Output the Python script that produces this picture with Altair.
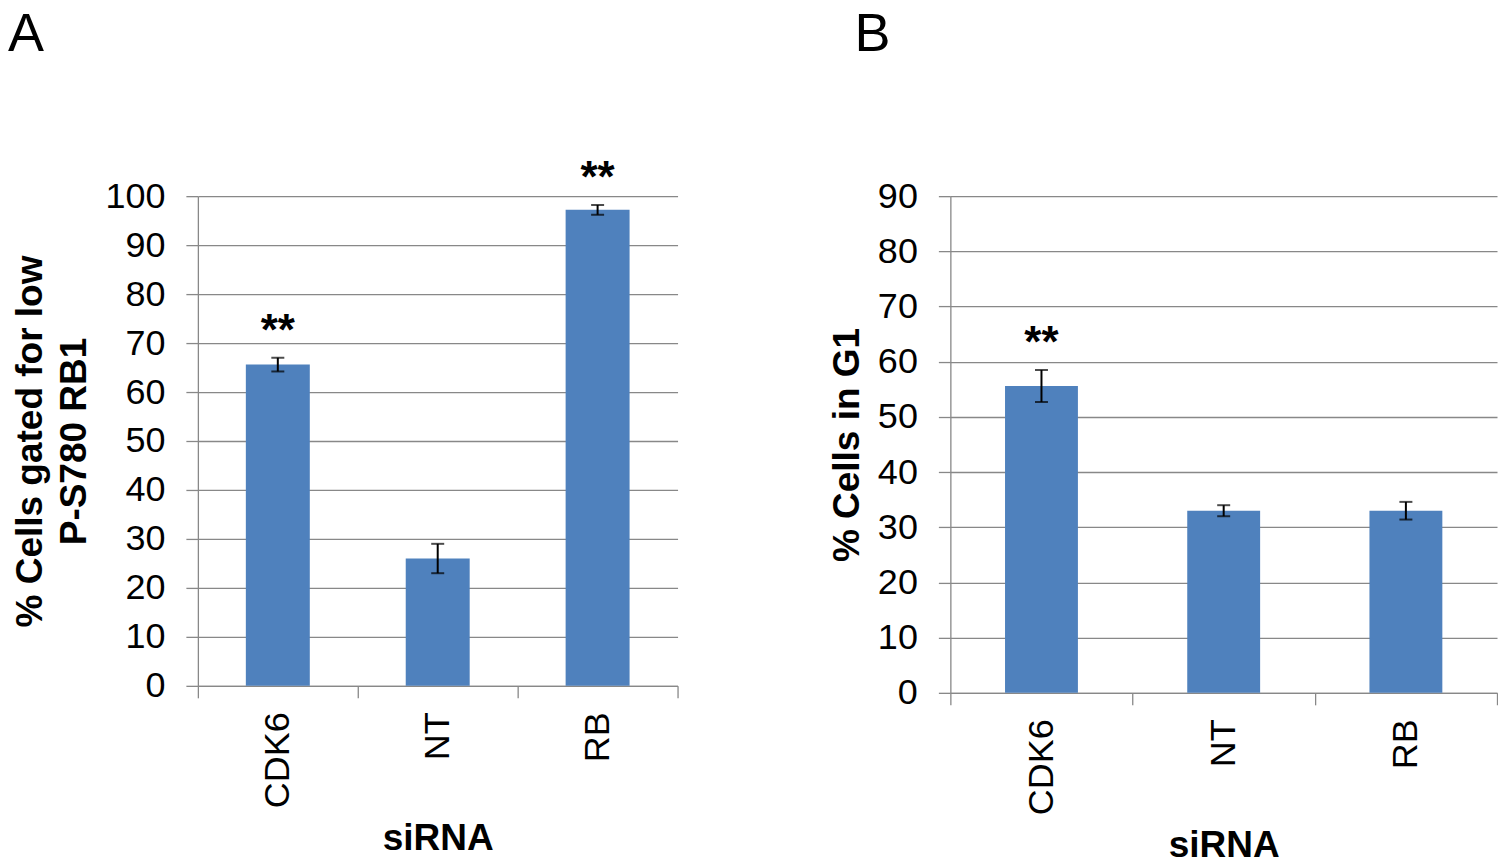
import altair as alt
import pandas as pd

cats = ["CDK6", "NT", "RB"]

a_mean = [65.6, 26.0, 97.2]
a_err = [1.4, 3.0, 1.0]
a_sig = ["**", "", "**"]

b_mean = [55.6, 33.0, 33.0]
b_err = [2.9, 1.0, 1.6]
b_sig = ["**", "", ""]

FONT = "Liberation Sans"
BAR = "#4F81BD"
GRID = "#888888"


def panel(mean, err, sig, ymax, ytitle, letter, w, h, ldx, ldy):
    df = pd.DataFrame({
        "siRNA": cats,
        "mean": mean,
        "lo": [m - e for m, e in zip(mean, err)],
        "hi": [m + e for m, e in zip(mean, err)],
        "sig": sig,
    })
    xax = alt.X(
        "siRNA:N", sort=cats,
        scale=alt.Scale(paddingInner=0, paddingOuter=0),
        axis=alt.Axis(title="siRNA", labelAngle=-90, tickBand="extent",
                      tickSize=12, labelPadding=14, titlePadding=13),
    )
    yscale = alt.Scale(domain=[0, ymax], nice=False)
    yaxis = alt.Axis(values=list(range(0, ymax + 1, 10)), title=ytitle,
                     tickSize=12, labelPadding=21, titlePadding=11,
                     titleLineHeight=44)

    def Y(f):
        return alt.Y(f, scale=yscale, axis=yaxis, title=ytitle)

    base = alt.Chart(df)
    bars = base.mark_bar(width=alt.RelativeBandSize(0.4), color=BAR).encode(
        x=xax, y=Y("mean:Q"))
    rule = base.mark_rule(color="black", strokeWidth=2).encode(
        x=xax, y=Y("lo:Q"), y2="hi:Q")
    cap_lo = base.mark_tick(color="black", size=13, thickness=2).encode(
        x=xax, y=Y("lo:Q"))
    cap_hi = base.mark_tick(color="black", size=13, thickness=2).encode(
        x=xax, y=Y("hi:Q"))
    stars = base.mark_text(fontSize=44, fontWeight="bold", dy=-13,
                           baseline="alphabetic", font=FONT,
                           color="black").encode(
        x=xax, y=Y("hi:Q"), text="sig:N")
    lab = alt.Chart(pd.DataFrame({"t": [letter]})).mark_text(
        fontSize=54, align="left", baseline="alphabetic", font=FONT,
        color="black").encode(x=alt.value(ldx), y=alt.value(ldy), text="t:N")
    return alt.layer(bars, rule, cap_lo, cap_hi, stars, lab).properties(width=w, height=h)


pa = panel(a_mean, a_err, a_sig, 100, ["% Cells gated for low", "P-S780 RB1"],
           "A", 480, 490, -190, -145)
pb = panel(b_mean, b_err, b_sig, 90, "% Cells in G1", "B", 547, 497, -96, -145)

chart = alt.hconcat(pa, pb, spacing=149).properties(padding=0).configure_view(
    stroke=None
).configure_axis(
    labelFont=FONT, titleFont=FONT, labelFontSize=36, titleFontSize=37,
    labelColor="black", titleColor="black", titleFontWeight="bold",
    domainColor=GRID, domainWidth=1.3, tickColor=GRID, tickWidth=1.3,
    gridColor=GRID, gridWidth=1.3,
).configure_axisX(grid=False)

chart.save("out.html", embed_options={"renderer": "svg", "actions": False})
